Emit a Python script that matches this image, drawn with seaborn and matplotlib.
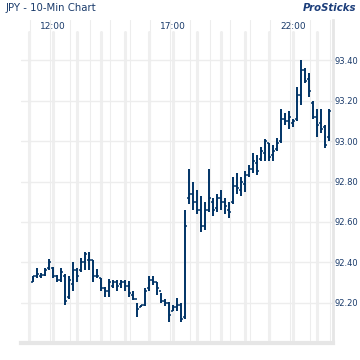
import matplotlib
matplotlib.use("Agg")
import pandas as pd
import matplotlib.pyplot as plt
import matplotlib.transforms as mtransforms
import seaborn as sns

# 10-minute bars, first bar at 11:10
start_minute = 11 * 60 + 10
bar_step = 10

opens = [92.30, 92.33, 92.33, 92.335, 92.37, 92.37, 92.33, 92.31, 92.33, 92.23,
         92.29, 92.36, 92.36, 92.40, 92.41, 92.41, 92.33, 92.32, 92.27, 92.26,
         92.28, 92.30, 92.29, 92.30, 92.28, 92.24, 92.22, 92.18, 92.19, 92.27,
         92.31, 92.30, 92.26, 92.21, 92.20, 92.16, 92.18, 92.19, 92.13, 92.72,
         92.74, 92.70, 92.66, 92.58, 92.66, 92.70, 92.67, 92.72, 92.70, 92.66,
         92.70, 92.78, 92.76, 92.79, 92.83, 92.86, 92.89, 92.91, 92.94, 92.99,
         92.93, 92.96, 93.00, 93.11, 93.10, 93.09, 93.11, 93.23, 93.35, 93.31,
         93.19, 93.12, 93.09, 93.07, 93.02]
highs = [92.33, 92.37, 92.345, 92.37, 92.415, 92.375, 92.335, 92.37, 92.34, 92.33,
         92.40, 92.37, 92.42, 92.45, 92.45, 92.41, 92.365, 92.32, 92.275, 92.315,
         92.31, 92.31, 92.31, 92.31, 92.305, 92.26, 92.20, 92.19, 92.27, 92.33,
         92.33, 92.30, 92.25, 92.22, 92.205, 92.19, 92.225, 92.20, 92.66, 92.86,
         92.80, 92.76, 92.73, 92.70, 92.86, 92.72, 92.74, 92.76, 92.72, 92.70,
         92.82, 92.84, 92.82, 92.85, 92.88, 92.94, 92.93, 92.97, 93.01, 92.99,
         92.98, 93.015, 93.16, 93.14, 93.15, 93.11, 93.27, 93.40, 93.36, 93.335,
         93.20, 93.16, 93.16, 93.08, 93.16]
lows = [92.30, 92.32, 92.32, 92.33, 92.36, 92.32, 92.30, 92.30, 92.19, 92.22,
        92.26, 92.30, 92.35, 92.36, 92.36, 92.30, 92.32, 92.26, 92.23, 92.23,
        92.27, 92.26, 92.27, 92.26, 92.23, 92.215, 92.13, 92.18, 92.185, 92.26,
        92.285, 92.24, 92.20, 92.185, 92.105, 92.16, 92.16, 92.105, 92.12, 92.69,
        92.66, 92.64, 92.55, 92.56, 92.65, 92.63, 92.65, 92.66, 92.64, 92.62,
        92.69, 92.74, 92.73, 92.75, 92.82, 92.84, 92.83, 92.90, 92.90, 92.90,
        92.90, 92.95, 92.99, 93.08, 93.06, 93.07, 93.10, 93.18, 93.29, 93.22,
        93.11, 93.02, 93.04, 92.965, 93.00]
closes = [92.33, 92.34, 92.335, 92.36, 92.40, 92.33, 92.31, 92.35, 92.21, 92.31,
          92.36, 92.33, 92.40, 92.44, 92.41, 92.33, 92.33, 92.27, 92.26, 92.30,
          92.30, 92.28, 92.30, 92.28, 92.25, 92.22, 92.17, 92.19, 92.26, 92.31,
          92.30, 92.27, 92.21, 92.20, 92.14, 92.18, 92.19, 92.12, 92.58, 92.74,
          92.70, 92.66, 92.58, 92.66, 92.72, 92.66, 92.72, 92.70, 92.68, 92.65,
          92.78, 92.77, 92.80, 92.83, 92.86, 92.90, 92.85, 92.95, 93.00, 92.92,
          92.95, 92.99, 93.11, 93.10, 93.12, 93.10, 93.23, 93.35, 93.30, 93.25,
          93.12, 93.08, 93.06, 92.98, 93.15]

hour_labels = ["12:00", "17:00", "22:00"]
hour_label_minutes = [12 * 60, 17 * 60, 22 * 60]
price_ticks = [92.20, 92.40, 92.60, 92.80, 93.00, 93.20, 93.40]

NAVY = "#003366"
TEXT = "#1a3b6b"
GRID = "#ededed"

sns.set_style("white")
plt.rcParams["font.family"] = ["DejaVu Sans"]

df = pd.DataFrame({"open": opens, "high": highs, "low": lows, "close": closes})
df["minute"] = start_minute + bar_step * df.index

fig = plt.figure(figsize=(3.6, 3.6), dpi=100)
ax = fig.add_axes([21 / 360, 17 / 360, 312 / 360, 323 / 360])
ax.set_xlim(640, 1420)
ax.set_ylim(92.0, 93.6)

# background grid: thin lines, thicker hour bands
for m in range(662, 1420, 50):
    ax.axvline(m + 0.5, color=GRID, lw=0.8, zorder=0)
for h in range(11, 24):
    ax.axvline(h * 60, ymax=0.963, color="#efefef", lw=2.2, zorder=0)
for p in price_ticks:
    ax.axhline(p, color=GRID, lw=1.0, zorder=0)

# OHLC bars
ax.vlines(df["minute"], df["low"], df["high"], color=NAVY, lw=1.4, zorder=3)
ax.hlines(df["open"], df["minute"] - 5, df["minute"], color=NAVY, lw=1.1, zorder=3)
ax.hlines(df["close"], df["minute"], df["minute"] + 5, color=NAVY, lw=1.1, zorder=3)

sns.despine(ax=ax, left=True, top=True, right=False, bottom=False)
ax.spines["bottom"].set_color("#e6e6e6")
ax.spines["bottom"].set_linewidth(3)
ax.spines["right"].set_color("#e6e6e6")
ax.spines["right"].set_linewidth(2)

ax.yaxis.tick_right()
ax.set_yticks(price_ticks)
ax.set_yticklabels([f"{p:.2f}" for p in price_ticks])
ax.tick_params(axis="y", length=0, pad=1, labelsize=6, labelcolor=TEXT)
ax.set_xticks(range(660, 1420, 120))
ax.set_xticklabels([])
ax.tick_params(axis="x", length=3, width=1, color="#e6e6e6")

trans = mtransforms.blended_transform_factory(ax.transData, ax.transAxes)
for lab, m in zip(hour_labels, hour_label_minutes):
    ax.text(m, 0.98, lab, transform=trans, ha="center", va="center",
            fontsize=6.5, color=TEXT, zorder=4)

fig.text(6 / 360, 1 - 8 / 360, "JPY - 10-Min Chart", ha="left", va="center",
         fontsize=7.3, color=TEXT)
fig.text(356 / 360, 1 - 8 / 360, "ProSticks", ha="right", va="center",
         fontsize=7.3, color="#1b3d7a", fontweight="bold", fontstyle="italic")

fig.savefig("out.png", dpi=100)
